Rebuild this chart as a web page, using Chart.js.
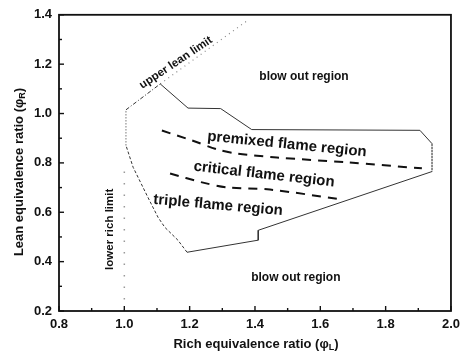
<!DOCTYPE html>
<html>
<head>
<meta charset="utf-8">
<script src="https://cdn.jsdelivr.net/npm/chart.js@4.4.1/dist/chart.umd.min.js"></script>
<style>
  html, body { margin: 0; padding: 0; background: #fff; }
  #wrap { width: 466px; height: 358px; }
</style>
</head>
<body>
<div id="wrap"><canvas id="c" width="466" height="358"></canvas></div>
<script>
// flame regime map data
const boundaryX = [1.005, 1.11, 1.195, 1.295, 1.39, 1.905, 1.942, 1.942, 1.41, 1.41, 1.192, 1.164, 1.124, 1.103, 1.072, 1.027, 1.005, 1.005];
const boundaryY = [1.015, 1.12, 1.022, 1.02, 0.935, 0.932, 0.878, 0.765, 0.527, 0.487, 0.438, 0.487, 0.539, 0.58, 0.661, 0.782, 0.871, 1.015];

const premixedX = [1.115, 1.207, 1.284, 1.345, 1.467, 1.682, 1.911];
const premixedY = [0.931, 0.891, 0.855, 0.838, 0.822, 0.802, 0.778];

const criticalX = [1.14, 1.238, 1.314, 1.446, 1.66];
const criticalY = [0.757, 0.721, 0.701, 0.692, 0.653];

const leanLimitX = [1.11, 1.376];
const leanLimitY = [1.12, 1.376];

const richLimitX = [1.0, 1.0];
const richLimitY = [0.2, 0.77];

const xTicks = [0.8, 1.0, 1.2, 1.4, 1.6, 1.8, 2.0];
const yTicks = [0.2, 0.4, 0.6, 0.8, 1.0, 1.2, 1.4];

// region labels: text, x, y, rotation (deg)
const regionLabels = [
  { text: "blow out region", x: 1.55, y: 1.15, rot: 0, size: 12 },
  { text: "blow out region", x: 1.525, y: 0.333, rot: 0, size: 12 },
  { text: "premixed flame region", x: 1.498, y: 0.875, rot: 5.7, size: 15 },
  { text: "critical flame region", x: 1.428, y: 0.753, rot: 6.5, size: 15 },
  { text: "triple flame region", x: 1.287, y: 0.628, rot: 5, size: 15 },
  { text: "upper lean limit", x: 1.158, y: 1.206, rot: -33.7, size: 11.5 },
  { text: "lower rich limit", x: 0.956, y: 0.531, rot: -90, size: 11.5 },
];

const FONT = "'Liberation Sans', Arial, sans-serif";

function pts(xs, ys) {
  return xs.map((x, i) => ({ x: x, y: ys[i] }));
}

// frame, inward ticks, text labels, axis titles
const decorPlugin = {
  id: "decor",
  afterDraw(chart) {
    const ctx = chart.ctx;
    const a = chart.chartArea;
    const xs = chart.scales.x;
    const ys = chart.scales.y;
    ctx.save();

    ctx.strokeStyle = "#111";
    ctx.lineWidth = 1.8;
    ctx.strokeRect(a.left, a.top, a.right - a.left, a.bottom - a.top);

    ctx.lineWidth = 1.4;
    for (let i = 0; i <= 12; i++) {
      const v = 0.8 + i * 0.1;
      const px = xs.getPixelForValue(v);
      const len = i % 2 === 0 ? 5 : 3;
      ctx.beginPath();
      ctx.moveTo(px, a.bottom);
      ctx.lineTo(px, a.bottom - len);
      ctx.stroke();
    }
    for (let i = 0; i <= 12; i++) {
      const v = 0.2 + i * 0.1;
      const py = ys.getPixelForValue(v);
      const len = i % 2 === 0 ? 5 : 3;
      ctx.beginPath();
      ctx.moveTo(a.left, py);
      ctx.lineTo(a.left + len, py);
      ctx.stroke();
    }

    ctx.fillStyle = "#111";
    ctx.textAlign = "center";
    ctx.textBaseline = "middle";
    regionLabels.forEach((l) => {
      ctx.save();
      ctx.translate(xs.getPixelForValue(l.x), ys.getPixelForValue(l.y));
      ctx.rotate((l.rot * Math.PI) / 180);
      ctx.font = "bold " + l.size + "px " + FONT;
      ctx.fillText(l.text, 0, 0);
      ctx.restore();
    });

    drawTitle(ctx, "Rich equivalence ratio (\u03C6", "L", ")", (a.left + a.right) / 2 + 1, 344, 0);
    drawTitle(ctx, "Lean equivalence ratio (\u03C6", "R", ")", 19, 172, -90);
    ctx.restore();
  },
};

function drawTitle(ctx, main, sub, tail, cx, cy, rot) {
  ctx.save();
  ctx.translate(cx, cy);
  ctx.rotate((rot * Math.PI) / 180);
  ctx.textAlign = "left";
  ctx.textBaseline = "middle";
  const big = "bold 13px " + FONT;
  const small = "bold 9px " + FONT;
  ctx.font = big;
  const w1 = ctx.measureText(main).width;
  const w3 = ctx.measureText(tail).width;
  ctx.font = small;
  const w2 = ctx.measureText(sub).width;
  let x = -(w1 + w2 + w3) / 2;
  ctx.font = big;
  ctx.fillText(main, x, 0);
  x += w1;
  ctx.font = small;
  ctx.fillText(sub, x, 4);
  x += w2;
  ctx.font = big;
  ctx.fillText(tail, x, 0);
  ctx.restore();
}

const boundaryDash = (c) => {
  const i = c.p0DataIndex;
  if (i === 16 || i === 6) return [1, 2];
  if (i >= 10 && i <= 15) return [3, 2];
  if (i === 0) return [4, 2, 1, 2];
  return undefined;
};

new Chart(document.getElementById("c"), {
  type: "scatter",
  data: {
    datasets: [
      {
        data: pts(boundaryX, boundaryY),
        showLine: true,
        borderColor: "#333",
        borderWidth: 1,
        pointRadius: 0,
        segment: { borderDash: boundaryDash },
      },
      {
        data: pts(premixedX, premixedY),
        showLine: true,
        borderColor: "#111",
        borderWidth: 2,
        borderDash: [9, 7],
        tension: 0.3,
        pointRadius: 0,
      },
      {
        data: pts(criticalX, criticalY),
        showLine: true,
        borderColor: "#111",
        borderWidth: 2,
        borderDash: [9, 7],
        tension: 0.3,
        pointRadius: 0,
      },
      {
        data: pts(leanLimitX, leanLimitY),
        showLine: true,
        borderColor: "#888",
        borderWidth: 1.2,
        borderDash: [1, 4],
        pointRadius: 0,
      },
      {
        data: pts(richLimitX, richLimitY),
        showLine: true,
        borderColor: "#999",
        borderWidth: 1.5,
        borderDash: [1.5, 10],
        pointRadius: 0,
      },
    ],
  },
  options: {
    responsive: false,
    animation: false,
    events: [],
    layout: { padding: { top: 14, right: 15, left: 0, bottom: 0 } },
    plugins: { legend: { display: false }, tooltip: { enabled: false } },
    scales: {
      x: {
        type: "linear",
        min: 0.8,
        max: 2.0,
        afterBuildTicks: (s) => { s.ticks = xTicks.map((v) => ({ value: v })); },
        afterFit: (s) => { s.height = 47; },
        grid: { display: false, drawTicks: false },
        border: { display: false },
        ticks: {
          padding: 6,
          color: "#111",
          font: { family: FONT, size: 13, weight: "bold" },
          callback: (v) => Number(v).toFixed(1),
        },
      },
      y: {
        type: "linear",
        min: 0.2,
        max: 1.4,
        afterBuildTicks: (s) => { s.ticks = yTicks.map((v) => ({ value: v })); },
        afterFit: (s) => { s.width = 59; },
        grid: { display: false, drawTicks: false },
        border: { display: false },
        ticks: {
          padding: 7,
          color: "#111",
          font: { family: FONT, size: 13, weight: "bold" },
          callback: (v) => Number(v).toFixed(1),
        },
      },
    },
  },
  plugins: [decorPlugin],
});
</script>
</body>
</html>
